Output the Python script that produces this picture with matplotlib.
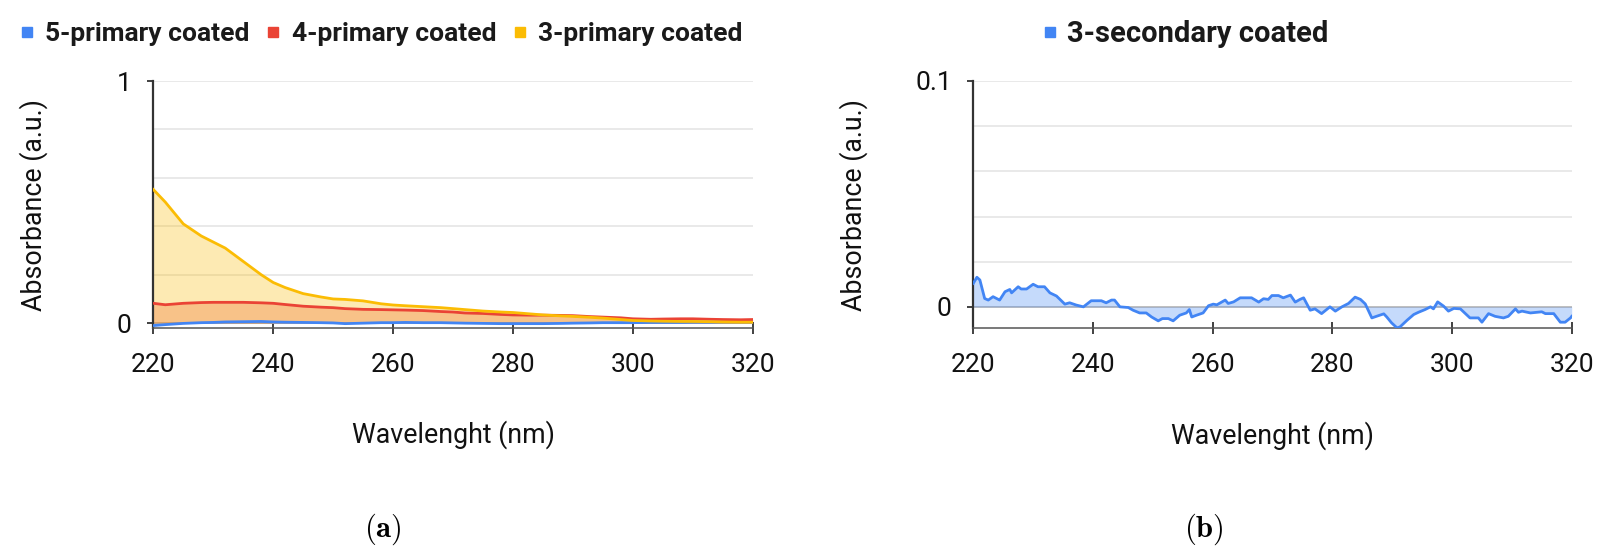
import matplotlib
matplotlib.use("Agg")
import matplotlib.pyplot as plt
from matplotlib.lines import Line2D
import numpy as np

# ---------------- data ----------------
wl_a = [220, 222, 225, 228, 230, 232, 235, 238, 240, 242, 245, 248, 250, 252, 255,
        258, 260, 262, 265, 268, 270, 272, 275, 278, 280, 283, 285, 288, 290, 293,
        295, 298, 300, 303, 305, 308, 310, 313, 315, 318, 320]
primary5 = [-0.010, -0.006, -0.001, 0.002, 0.003, 0.005, 0.006, 0.007, 0.005, 0.004,
            0.003, 0.002, 0.001, -0.002, 0.000, 0.002, 0.002, 0.003, 0.002, 0.002,
            0.001, 0.000, -0.001, -0.002, -0.002, -0.002, -0.002, -0.001, 0.000, 0.001,
            0.002, 0.002, 0.002, 0.003, 0.003, 0.003, 0.004, 0.004, 0.005, 0.005, 0.005]
primary4 = [0.082, 0.076, 0.082, 0.085, 0.086, 0.086, 0.086, 0.084, 0.082, 0.077,
            0.070, 0.066, 0.064, 0.060, 0.057, 0.056, 0.055, 0.054, 0.052, 0.048,
            0.046, 0.042, 0.040, 0.036, 0.034, 0.033, 0.033, 0.032, 0.031, 0.027,
            0.025, 0.022, 0.018, 0.016, 0.017, 0.018, 0.018, 0.016, 0.015, 0.014, 0.015]
primary3 = [0.552, 0.500, 0.410, 0.360, 0.335, 0.310, 0.255, 0.200, 0.168, 0.147,
            0.122, 0.108, 0.100, 0.098, 0.092, 0.080, 0.075, 0.072, 0.068, 0.064,
            0.060, 0.056, 0.050, 0.046, 0.044, 0.038, 0.034, 0.030, 0.028, 0.024,
            0.021, 0.015, 0.011, 0.009, 0.008, 0.007, 0.007, 0.006, 0.005, 0.004, 0.004]
labels_a = ["5-primary coated", "4-primary coated", "3-primary coated"]

wl_b = [220.0, 220.6, 221.1, 221.9, 222.5, 223.3, 224.4, 225.3, 226.1, 226.4, 227.5,
        228.0, 228.9, 230.0, 230.8, 231.9, 232.8, 233.9, 235.3, 236.1, 237.2, 238.4,
        239.7, 241.4, 242.2, 243.1, 243.6, 244.5, 245.9, 246.7, 247.8, 248.9, 249.8,
        250.9, 251.6, 252.6, 253.4, 254.5, 255.6, 256.1, 256.5, 257.3, 258.4, 259.3,
        260.1, 260.7, 262.1, 262.6, 263.5, 264.6, 266.5, 267.7, 268.5, 269.3, 269.9,
        271.0, 271.8, 273.0, 273.8, 274.6, 275.2, 276.3, 277.1, 278.2, 279.6, 280.5,
        281.6, 282.7, 283.8, 284.7, 285.5, 286.6, 287.7, 288.6, 289.1, 289.9, 290.8,
        291.3, 292.5, 293.6, 294.4, 295.5, 296.4, 296.9, 297.6, 298.6, 299.4, 300.3,
        301.4, 303.0, 304.4, 305.0, 306.1, 307.2, 308.6, 309.4, 310.6, 311.1, 311.7,
        313.1, 315.0, 315.6, 317.0, 318.1, 318.9, 319.8, 320.0]
secondary3 = [0.0104, 0.0131, 0.0119, 0.0037, 0.0030, 0.0045, 0.0030, 0.0067, 0.0077,
              0.0062, 0.0089, 0.0079, 0.0079, 0.0100, 0.0089, 0.0089, 0.0062, 0.0048,
              0.0012, 0.0018, 0.0008, 0.0000, 0.0027, 0.0027, 0.0018, 0.0030, 0.0030,
              0.0000, -0.0003, -0.0015, -0.0027, -0.0027, -0.0045, -0.0062, -0.0052,
              -0.0052, -0.0062, -0.0037, -0.0027, -0.0012, -0.0045, -0.0037, -0.0027,
              0.0005, 0.0012, 0.0009, 0.0030, 0.0015, 0.0022, 0.0040, 0.0040, 0.0021,
              0.0036, 0.0033, 0.0050, 0.0050, 0.0040, 0.0052, 0.0021, 0.0033, 0.0040,
              -0.0015, -0.0009, -0.0030, 0.0000, -0.0019, 0.0000, 0.0015, 0.0043,
              0.0033, 0.0013, -0.0049, -0.0039, -0.0031, -0.0045, -0.0071, -0.0093,
              -0.0089, -0.0059, -0.0034, -0.0024, -0.0012, 0.0000, -0.0009, 0.0022,
              0.0003, -0.0019, -0.0007, -0.0009, -0.0049, -0.0049, -0.0068, -0.0030,
              -0.0042, -0.0049, -0.0042, -0.0009, -0.0024, -0.0019, -0.0027, -0.0022,
              -0.0030, -0.0030, -0.0068, -0.0068, -0.0049, -0.0042]
labels_b = ["3-secondary coated"]

xticks = [220, 240, 260, 280, 300, 320]
xlabel = "Wavelenght (nm)"
ylabel = "Absorbance (a.u.)"

colors_a = ["#4285F4", "#EA4335", "#FBBC04"]
color_b = "#4285F4"

plt.rcParams['font.family'] = ['Roboto', 'DejaVu Sans']
plt.rcParams['mathtext.fontset'] = 'cm'

W, H = 1605, 548
fig = plt.figure(figsize=(W / 100, H / 100), dpi=100)


def px_axes(x0, x1, ytop, ybot):
    return fig.add_axes([x0 / W, 1 - ybot / H, (x1 - x0) / W, (ybot - ytop) / H])


ax1 = px_axes(153.3, 752.7, 81, 328)
ax2 = px_axes(973.3, 1571.7, 81, 328.3)

TICK_FS = 19
LAB_FS = 19.3

def style(ax, ymax, ymin, minor):
    ax.set_xlim(220, 320)
    ax.set_ylim(ymin, ymax)
    ax.set_xticks(xticks)
    ax.set_yticks([0, ymax])
    ax.set_yticklabels(["0", f"{ymax:g}"])
    ax.set_yticks(minor, minor=True)
    ax.grid(True, axis='y', which='both', color='#E3E3E3', linewidth=1.1, zorder=0)
    ax.axhline(0, color='#444444', linewidth=1.4, zorder=1)
    for s in ['top', 'right']:
        ax.spines[s].set_visible(False)
    ax.spines['left'].set_color('#333333')
    ax.spines['left'].set_linewidth(1.6)
    ax.spines['bottom'].set_color('#555555')
    ax.spines['bottom'].set_linewidth(1.1)
    ax.tick_params(axis='x', direction='inout', length=8, width=1.3, color='#333333',
                   labelsize=TICK_FS, pad=14, labelcolor='#111111')
    ax.tick_params(axis='y', which='major', direction='out', length=4.5, width=1.3,
                   color='#333333', labelsize=TICK_FS, pad=11, labelcolor='#111111')
    ax.tick_params(axis='y', which='minor', length=0)
    ax.set_xlabel(xlabel, fontsize=LAB_FS, color='#111111')
    ax.set_ylabel(ylabel, fontsize=LAB_FS, color='#111111')
    ax.xaxis.set_label_coords(0.5, -0.433)
    ax.xaxis.label.set_va('center')
    ax.yaxis.set_label_coords(-0.2, 0.5)
    ax.yaxis.label.set_va('center')
    ax.set_facecolor('none')


style(ax1, 1, -0.02, [0.2, 0.4, 0.6, 0.8])
style(ax2, 0.1, -0.0095, [0.02, 0.04, 0.06, 0.08])

# left panel: overlapping area series
for ys, c in zip([primary5, primary4, primary3], colors_a):
    ax1.fill_between(wl_a, 0, ys, color=c, alpha=0.3, linewidth=0, zorder=2)
for ys, c in zip([primary5, primary4, primary3], colors_a):
    ax1.plot(wl_a, ys, color=c, linewidth=2, zorder=3, solid_joinstyle='round')

# right panel
ax2.fill_between(wl_b, 0, secondary3, color=color_b, alpha=0.3, linewidth=0, zorder=2)
ax2.plot(wl_b, secondary3, color=color_b, linewidth=2, zorder=3, solid_joinstyle='round')

# legends
def handles(cols):
    return [Line2D([], [], marker='s', linestyle='none', markersize=6.5,
                   markerfacecolor=c, markeredgecolor=c) for c in cols]

fig.legend(handles(colors_a), labels_a, loc='center left', ncol=3, columnspacing=0.67,
           handletextpad=0.47, handlelength=0.45, borderpad=0, borderaxespad=0,
           frameon=False, prop={'family': 'Roboto', 'weight': 'bold', 'size': 19},
           labelcolor='#1a1a1a', bbox_to_anchor=(21 / W, 1 - 34 / H))
fig.legend(handles([color_b]), labels_b, loc='center left', ncol=1,
           handletextpad=0.40, handlelength=0.42, borderpad=0, borderaxespad=0,
           frameon=False, prop={'family': 'Roboto', 'weight': 'bold', 'size': 21},
           labelcolor='#1a1a1a', bbox_to_anchor=(1043.5 / W, 1 - 34 / H))

# sub-captions
fig.text(383 / W, 1 - 529 / H, r'$\mathbf{(a)}$', ha='center', va='center', fontsize=22)
fig.text(1204 / W, 1 - 529 / H, r'$\mathbf{(b)}$', ha='center', va='center', fontsize=22)

fig.savefig('out.png', dpi=100, facecolor='white')
